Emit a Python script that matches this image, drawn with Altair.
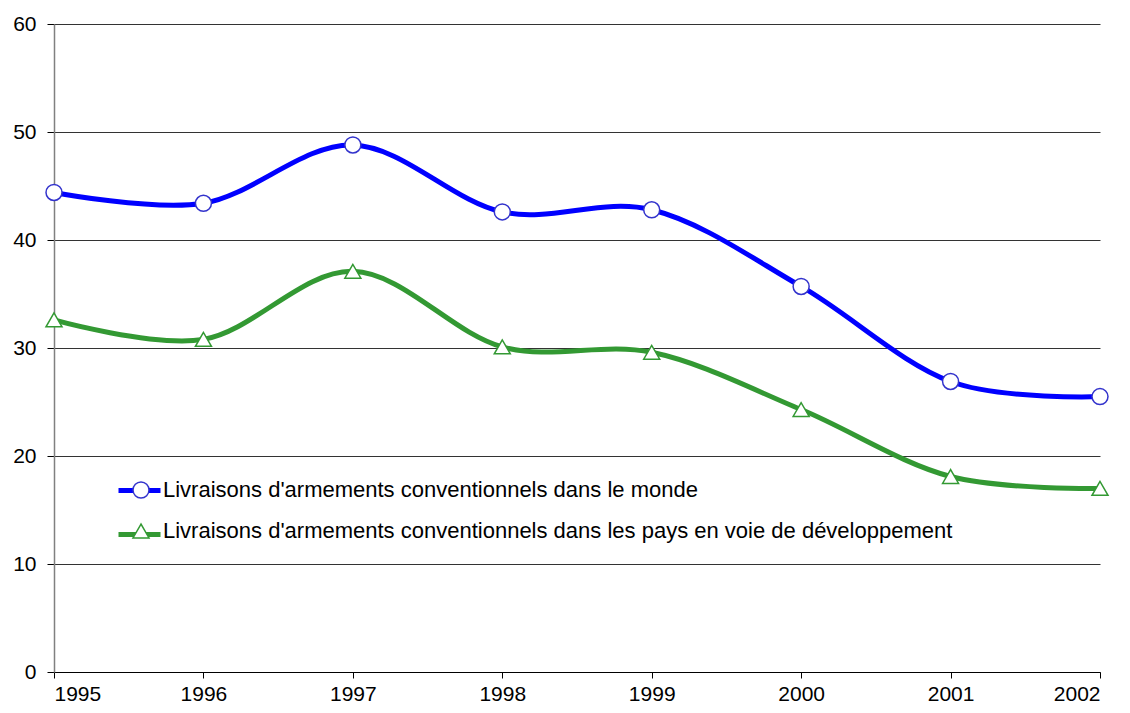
import altair as alt
import pandas as pd

years = [1995, 1996, 1997, 1998, 1999, 2000, 2001, 2002]
monde = [44.4, 43.4, 48.8, 42.6, 42.8, 35.7, 26.9, 25.5]
pvd = [32.6, 30.8, 37.1, 30.1, 29.6, 24.3, 18.1, 17.0]
series = [
    "Livraisons d'armements conventionnels dans le monde",
    "Livraisons d'armements conventionnels dans les pays en voie de développement",
]
line_keys = ["monde", "pvd"]
line_colors = ["#0000FF", "#339933"]
marker_colors = ["#3333CC", "#339933"]
shapes = ["circle", "triangle-up"]

rows = []
for y, a, b in zip(years, monde, pvd):
    rows.append({"annee": y, "valeur": a, "serie": series[0], "courbe": line_keys[0]})
    rows.append({"annee": y, "valeur": b, "serie": series[1], "courbe": line_keys[1]})
df = pd.DataFrame(rows)

FONT = "Liberation Sans"
FS = 21
LFS = 22
LX, LY = 62, 455

x = alt.X("annee:Q", scale=alt.Scale(domain=[1995, 2002], nice=False, zero=False),
          axis=alt.Axis(values=years, format="d", title=None, grid=False,
                        labelFont=FONT, labelFontSize=FS, labelColor="black",
                        tickColor="black", tickSize=6, labelPadding=5,
                        domainColor="black", domainWidth=1))
y = alt.Y("valeur:Q", scale=alt.Scale(domain=[0, 60], nice=False),
          axis=alt.Axis(values=[0, 10, 20, 30, 40, 50, 60], title=None, grid=True,
                        gridColor="#333333", gridWidth=1,
                        labelFont=FONT, labelFontSize=FS, labelColor="black",
                        tickColor="black", tickSize=7, labelPadding=11,
                        domainColor="#808080", domainWidth=1.5))

lines = alt.Chart(df).mark_line(interpolate="cardinal", strokeWidth=5).encode(
    x=x, y=y,
    color=alt.Color("courbe:N", scale=alt.Scale(domain=line_keys, range=line_colors),
                    legend=alt.Legend(orient="none", legendX=LX, legendY=LY - 12,
                                      title=None, symbolType="stroke", symbolSize=1764,
                                      symbolStrokeWidth=5, labelExpr="' '",
                                      labelFont=FONT, labelFontSize=LFS,
                                      rowPadding=9, padding=0)),
    detail="courbe:N",
)

points = alt.Chart(df).mark_point(filled=False, fill="white", size=256, strokeWidth=1.5, opacity=1).encode(
    x=x, y=y,
    stroke=alt.Stroke("serie:N", scale=alt.Scale(domain=series, range=marker_colors),
                      legend=alt.Legend(orient="none", legendX=LX + 14, legendY=LY,
                                        title=None, symbolSize=256, symbolFillColor="white",
                                        symbolStrokeWidth=1.5, symbolOpacity=1,
                                        labelFont=FONT, labelFontSize=LFS, labelColor="black",
                                        labelLimit=1000, labelOffset=11, rowPadding=19, padding=0)),
    shape=alt.Shape("serie:N", scale=alt.Scale(domain=series, range=shapes)),
)

chart = alt.layer(lines, points).properties(
    width=1046, height=648,
    padding={"left": 46, "top": 16, "right": 22, "bottom": 33},
    autosize=alt.AutoSizeParams(type="none"),
).configure(font=FONT, background="white", view=alt.ViewConfig(stroke=None))

chart.save("out.html", embed_options={"renderer": "svg", "actions": False})
